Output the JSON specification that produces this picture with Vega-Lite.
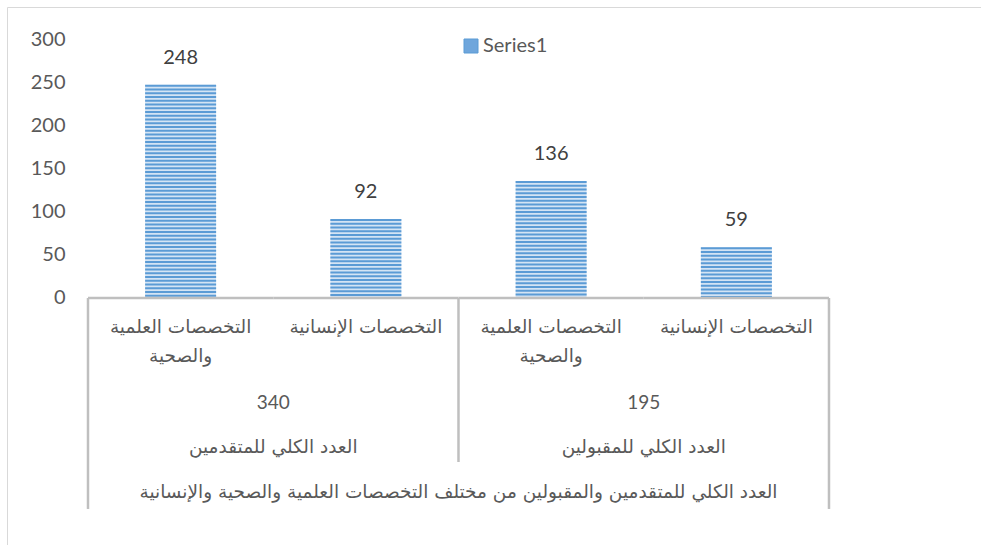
{
  "$schema": "https://vega.github.io/schema/vega-lite/v6.json",
  "width": 974,
  "height": 538,
  "autosize": {"type": "none"},
  "padding": {"left": 7, "top": 7, "right": 0, "bottom": 0},
  "background": "white",
  "config": {
    "font": "Lato",
    "view": {"stroke": "#d9d9d9", "strokeWidth": 1, "strokeDash": [974, 1512, 538, 0]},
    "axis": {"grid": false}
  },
  "datasets": {
    "bars": [
      {"cat": "a1", "line1": "التخصصات العلمية", "line2": "والصحية", "value": 248, "series": "Series1"},
      {"cat": "a2", "line1": "التخصصات الإنسانية", "line2": null, "value": 92, "series": "Series1"},
      {"cat": "a3", "line1": "التخصصات العلمية", "line2": "والصحية", "value": 136, "series": "Series1"},
      {"cat": "a4", "line1": "التخصصات الإنسانية", "line2": null, "value": 59, "series": "Series1"}
    ],
    "groups": [
      {"cat": "a1", "total": "340", "name": "العدد الكلي للمتقدمين"},
      {"cat": "a3", "total": "195", "name": "العدد الكلي للمقبولين"}
    ],
    "top": [
      {"cat": "a2", "name": "العدد الكلي للمتقدمين والمقبولين من مختلف التخصصات العلمية والصحية والإنسانية"}
    ]
  },
  "encoding": {
    "x": {
      "field": "cat",
      "type": "nominal",
      "sort": ["a1", "a2", "a3", "a4"],
      "scale": {"domain": ["a1", "a2", "a3", "a4"], "paddingInner": 0, "paddingOuter": 0.6289, "align": 0.3476},
      "axis": null
    }
  },
  "layer": [
    {
      "data": {"name": "bars"},
      "mark": {"type": "bar", "width": {"band": 0.383}, "fill": "#d4e4f4"},
      "encoding": {
        "y": {
          "field": "value",
          "type": "quantitative",
          "scale": {"domain": [-287.21, 338.37], "nice": false, "zero": false},
          "axis": {
            "values": [0, 50, 100, 150, 200, 250, 300],
            "offset": -81,
            "domain": false,
            "ticks": false,
            "labelPadding": 23,
            "labelFontSize": 20,
            "labelColor": "#595959",
            "labelFont": "Lato",
            "title": null
          }
        },
        "y2": {"datum": 0}
      }
    },
    {
      "data": {"name": "bars"},
      "mark": {"type": "rule", "strokeWidth": 71, "strokeDash": [2, 1.75], "strokeCap": "butt"},
      "encoding": {
        "y": {"field": "value", "type": "quantitative"},
        "y2": {"datum": 0},
        "stroke": {
          "field": "series",
          "type": "nominal",
          "scale": {"range": ["#5b9bd5"]},
          "legend": {
            "orient": "none",
            "legendX": 454,
            "legendY": 29,
            "title": null,
            "symbolType": "square",
            "symbolSize": 196,
            "symbolStrokeWidth": 1,
            "symbolFillColor": "#6fa6dc",
            "labelFontSize": 20,
            "labelColor": "#595959",
            "labelFont": "Lato",
            "labelOffset": 2
          }
        }
      }
    },
    {
      "data": {"name": "bars"},
      "mark": {"type": "text", "dy": -27, "baseline": "middle", "align": "center", "fontSize": 20, "color": "#404040", "font": "Lato"},
      "encoding": {
        "y": {"field": "value", "type": "quantitative"},
        "text": {"field": "value", "type": "quantitative"}
      }
    },
    {
      "data": {"name": "bars"},
      "mark": {"type": "rule", "stroke": "#bfbfbf", "strokeWidth": 2.5},
      "encoding": {
        "x": {"field": "cat", "type": "nominal", "bandPosition": 0},
        "x2": {"field": "cat", "bandPosition": 1},
        "y": {"datum": 0}
      }
    },
    {
      "data": {"name": "bars"},
      "transform": [{"filter": "datum.cat === 'a1'"}],
      "mark": {"type": "rule", "stroke": "#bfbfbf", "strokeWidth": 2.5},
      "encoding": {
        "x": {"field": "cat", "type": "nominal", "bandPosition": 0},
        "y": {"datum": 0},
        "y2": {"datum": -245.3}
      }
    },
    {
      "data": {"name": "bars"},
      "transform": [{"filter": "datum.cat === 'a4'"}],
      "mark": {"type": "rule", "stroke": "#bfbfbf", "strokeWidth": 2.5},
      "encoding": {
        "x": {"field": "cat", "type": "nominal", "bandPosition": 1},
        "y": {"datum": 0},
        "y2": {"datum": -245.3}
      }
    },
    {
      "data": {"name": "bars"},
      "transform": [{"filter": "datum.cat === 'a3'"}],
      "mark": {"type": "rule", "stroke": "#bfbfbf", "strokeWidth": 2.5},
      "encoding": {
        "x": {"field": "cat", "type": "nominal", "bandPosition": 0},
        "y": {"datum": 0},
        "y2": {"datum": -190.7}
      }
    },
    {
      "data": {"name": "bars"},
      "mark": {"type": "text", "baseline": "middle", "align": "center", "fontSize": 18.5, "color": "#595959", "font": "DejaVu Sans"},
      "encoding": {
        "y": {"datum": -33.7},
        "text": {"field": "line1", "type": "nominal"}
      }
    },
    {
      "data": {"name": "bars"},
      "transform": [{"filter": "datum.line2 != null"}],
      "mark": {"type": "text", "baseline": "middle", "align": "center", "fontSize": 18.5, "color": "#595959", "font": "DejaVu Sans"},
      "encoding": {
        "y": {"datum": -67.4},
        "text": {"field": "line2", "type": "nominal"}
      }
    },
    {
      "data": {"name": "groups"},
      "mark": {"type": "text", "baseline": "middle", "align": "center", "fontSize": 19, "color": "#595959", "font": "Lato"},
      "encoding": {
        "x": {"field": "cat", "type": "nominal", "bandPosition": 1},
        "y": {"datum": -122.1},
        "text": {"field": "total", "type": "nominal"}
      }
    },
    {
      "data": {"name": "groups"},
      "mark": {"type": "text", "baseline": "middle", "align": "center", "fontSize": 18.5, "color": "#595959", "font": "DejaVu Sans"},
      "encoding": {
        "x": {"field": "cat", "type": "nominal", "bandPosition": 1},
        "y": {"datum": -173.3},
        "text": {"field": "name", "type": "nominal"}
      }
    },
    {
      "data": {"name": "top"},
      "mark": {"type": "text", "baseline": "middle", "align": "center", "fontSize": 18.5, "color": "#595959", "font": "DejaVu Sans"},
      "encoding": {
        "x": {"field": "cat", "type": "nominal", "bandPosition": 1},
        "y": {"datum": -225.6},
        "text": {"field": "name", "type": "nominal"}
      }
    }
  ]
}
